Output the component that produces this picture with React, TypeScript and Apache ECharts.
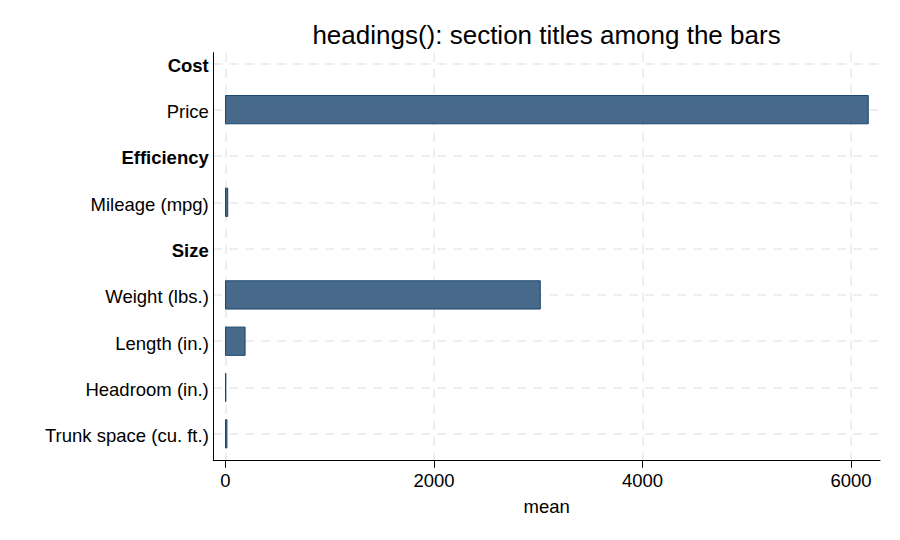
import React, { useEffect, useRef } from "react";
import * as echarts from "echarts";

const CATEGORIES = [
  "Cost",
  "Price",
  "Efficiency",
  "Mileage (mpg)",
  "Size",
  "Weight (lbs.)",
  "Length (in.)",
  "Headroom (in.)",
  "Trunk space (cu. ft.)",
];
const IS_HEADING = [true, false, true, false, true, false, false, false, false];
const MEANS: (number | null)[] = [null, 6165.26, null, 21.3, null, 3019.46, 187.93, 2.99, 13.76];
const X_TICKS = [0, 2000, 4000, 6000];
const TITLE = "headings(): section titles among the bars";
const X_NAME = "mean";

const FONT = "'Liberation Sans', Arial, Helvetica, sans-serif";

export default function App() {
  const ref = useRef<HTMLDivElement>(null);
  useEffect(() => {
    if (!ref.current) return;
    const chart = echarts.init(ref.current, undefined, { renderer: "svg" });
    const rows = CATEGORIES.map((_, i) => i);
    const data = MEANS.map((v, i) => (v == null ? null : [v, i])).filter((d) => d != null);
    const grid = "#e9e9e9";
    chart.setOption({
      animation: false,
      backgroundColor: "#ffffff",
      textStyle: { fontFamily: FONT },
      title: {
        text: TITLE,
        left: 541.5,
        top: 17,
        textAlign: "center",
        textStyle: { fontFamily: FONT, fontSize: 26, fontWeight: "normal", color: "#000" },
      },
      grid: { left: 213.3, right: 20, top: 52.7, bottom: 79.3, containLabel: false },
      xAxis: {
        type: "value",
        position: "bottom",
        min: -117,
        max: 6278,
        name: X_NAME,
        nameLocation: "middle",
        nameGap: 36,
        nameTextStyle: { fontFamily: FONT, fontSize: 18.5, color: "#000" },
        axisLine: { show: true, onZero: false, lineStyle: { color: "#000", width: 1 } },
        axisTick: { show: true, length: 7, customValues: X_TICKS, lineStyle: { color: "#000", width: 1 } },
        axisLabel: {
          customValues: X_TICKS,
          margin: 10,
          fontFamily: FONT,
          fontSize: 18.5,
          color: "#000",
          formatter: (v: number) => String(v),
        },
        splitLine: { show: true, lineStyle: { color: grid, width: 1.5, type: [9, 7] } },
      },
      yAxis: {
        type: "value",
        position: "left",
        inverse: true,
        min: -0.23,
        max: 8.58,
        axisLine: { show: true, onZero: false, lineStyle: { color: "#000", width: 1 } },
        axisTick: { show: false, customValues: rows },
        axisLabel: {
          customValues: rows,
          margin: 4.5,
          padding: [4, 0, 0, 0],
          fontFamily: FONT,
          fontSize: 18.5,
          color: "#000",
          formatter: (v: number) => {
            const i = Math.round(v);
            const name = CATEGORIES[i] ?? "";
            return IS_HEADING[i] ? `{h|${name}}` : name;
          },
          rich: { h: { fontFamily: FONT, fontSize: 18.5, fontWeight: "bold", color: "#000" } },
        },
        splitLine: { show: true, lineStyle: { color: grid, width: 1.5, type: [9, 7] } },
      },
      series: [
        {
          type: "custom",
          encode: { x: 0, y: 1 },
          data,
          renderItem: (params: any, api: any) => {
            const v = api.value(0);
            const i = api.value(1);
            const p0 = api.coord([0, i]);
            const p1 = api.coord([v, i]);
            const band = Math.abs(api.coord([0, i + 1])[1] - p0[1]);
            const h = band * 0.61;
            return {
              type: "rect",
              shape: { x: p0[0], y: p0[1] - h / 2, width: p1[0] - p0[0], height: h },
              style: { fill: "#476a8b", stroke: "#1a476f", lineWidth: 1 },
            };
          },
        },
      ],
    });
    return () => chart.dispose();
  }, []);
  return (
    <div
      ref={ref}
      style={{ position: "fixed", left: 0, top: 0, width: 900, height: 540, background: "#fff" }}
    />
  );
}
